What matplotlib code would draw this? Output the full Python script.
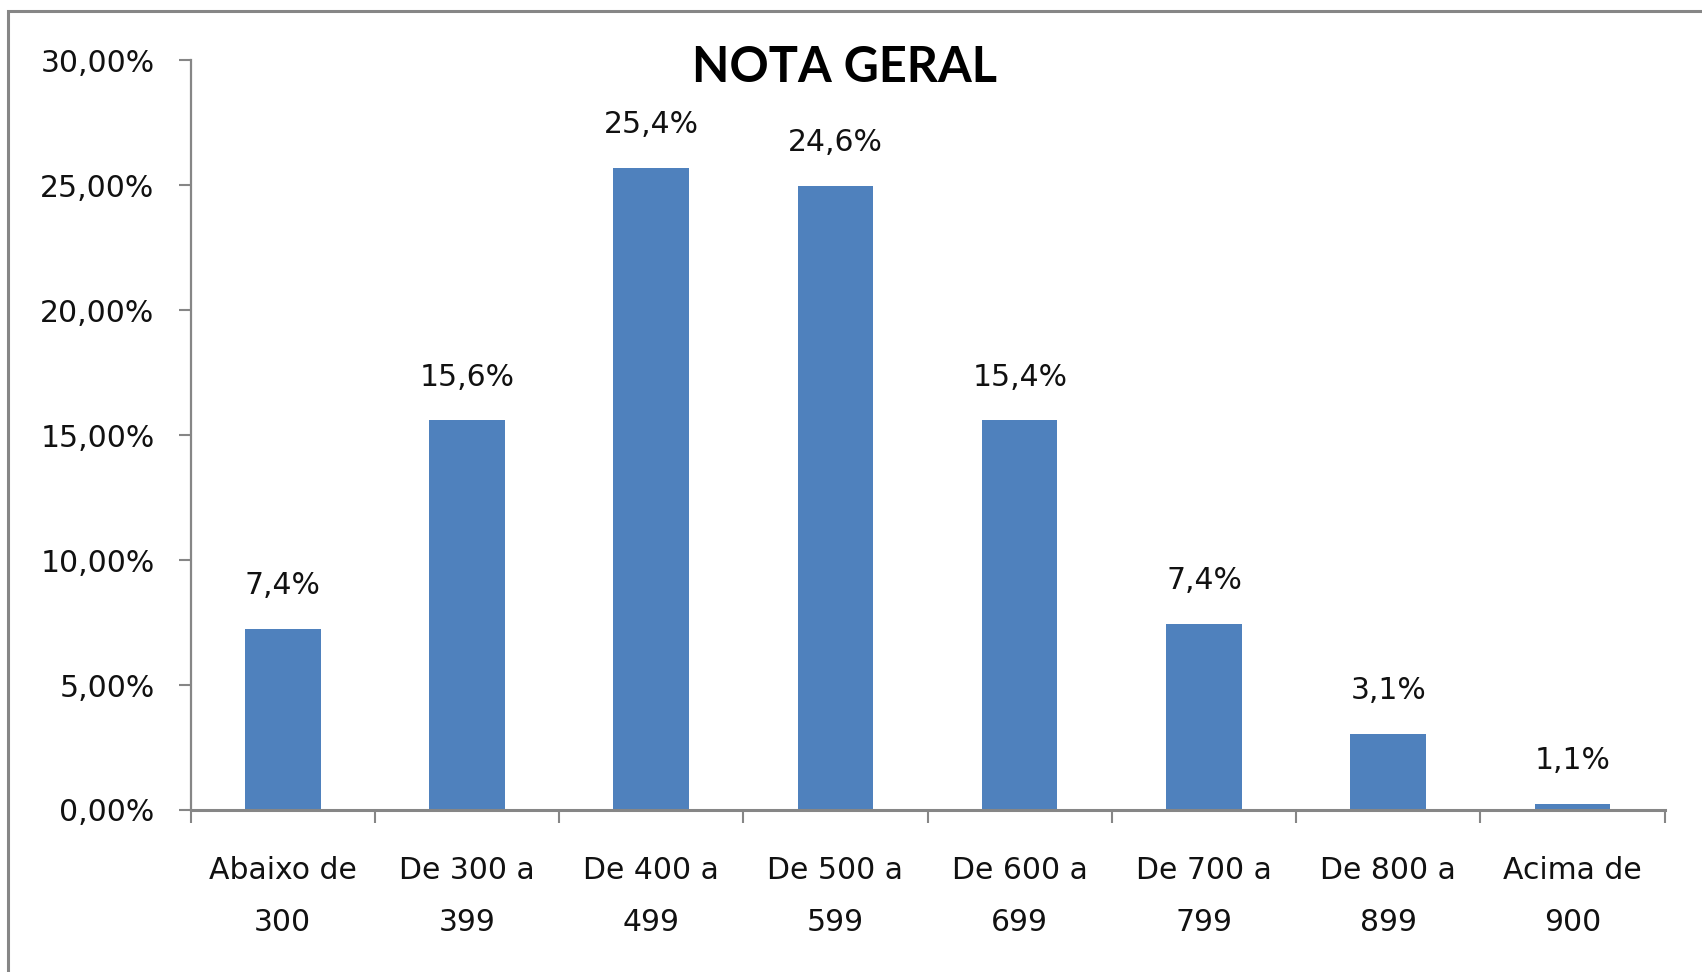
import matplotlib.pyplot as plt
from matplotlib.patches import Rectangle

categories = ["Abaixo de\n300", "De 300 a\n399", "De 400 a\n499", "De 500 a\n599",
              "De 600 a\n699", "De 700 a\n799", "De 800 a\n899", "Acima de\n900"]
values = [7.24, 15.6, 25.7, 24.97, 15.6, 7.45, 3.05, 0.25]
value_labels = ["7,4%", "15,6%", "25,4%", "24,6%", "15,4%", "7,4%", "3,1%", "1,1%"]
yticks = [0, 5, 10, 15, 20, 25, 30]
ytick_labels = ["0,00%", "5,00%", "10,00%", "15,00%", "20,00%", "25,00%", "30,00%"]
title = "NOTA GERAL"


def main():
  plt.rcParams['font.family'] = ['DejaVu Sans']
  axis_gray = '#868686'
  text_color = '#111111'
  fs = 21.5
  fig = plt.figure(figsize=(17.02, 9.72), dpi=100)
  ax = fig.add_axes([0.112, 0.1667, 0.866, 0.7713])

  x = list(range(len(categories)))
  ax.bar(x, values, width=0.41, color='#4F81BD', zorder=2)

  for xi, v, lab in zip(x, values, value_labels):
    ax.annotate(lab, (xi, v), xytext=(0, 31), textcoords='offset points',
                ha='center', va='center', fontsize=fs, color=text_color)

  ax.set_xlim(-0.5, len(categories) - 0.5)
  ax.set_ylim(0, 30)
  ax.set_yticks(yticks)
  ax.set_yticklabels(ytick_labels, fontsize=fs, color=text_color)
  ax.set_xticks(x)
  ax.set_xticklabels(categories, fontsize=fs, color=text_color, linespacing=2.0)
  ax.tick_params(axis='x', length=0, pad=33)
  ax.set_xticks([i - 0.5 for i in range(len(categories) + 1)], minor=True)
  ax.tick_params(axis='x', which='minor', length=9, width=1.5, color=axis_gray)
  ax.tick_params(axis='y', length=9, width=1.5, color=axis_gray, pad=17)

  for side in ['top', 'right']:
    ax.spines[side].set_visible(False)
  for side in ['left', 'bottom']:
    ax.spines[side].set_color(axis_gray)
    ax.spines[side].set_linewidth(1.6)
  ax.spines['bottom'].set_linewidth(2.2)

  fig.text(0.496, 0.931, title, ha='center', va='center', fontsize=35,
           fontweight='bold', family=['Lato', 'DejaVu Sans'])

  # chart frame: only top and left edges show
  fig.patches.append(Rectangle((8 / 1702, -0.1), 1.2, 1 - 11 / 972 + 0.1,
                               transform=fig.transFigure, fill=False,
                               edgecolor=axis_gray, linewidth=2.2))

  fig.savefig('out.png', dpi=100)


if __name__ == "__main__":
  main()
